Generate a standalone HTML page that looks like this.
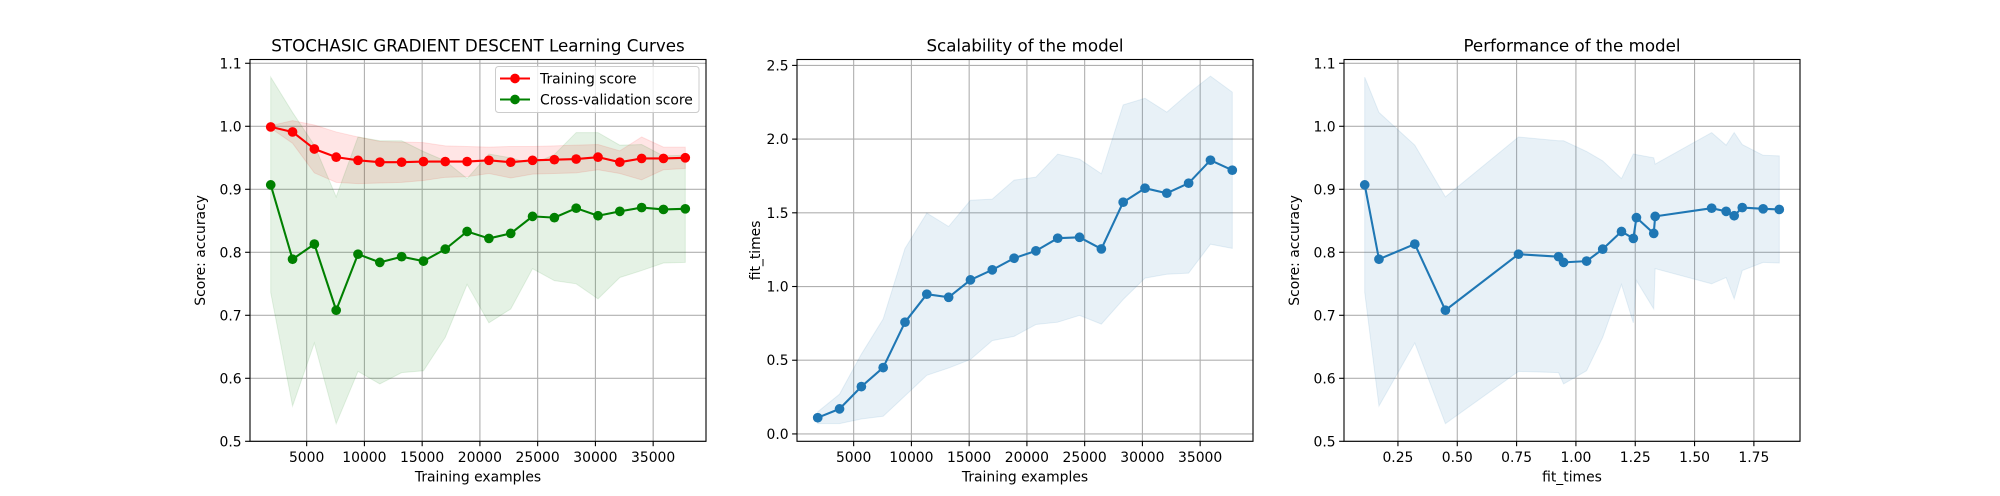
<!DOCTYPE html>
<html><head><meta charset="utf-8">
<style>
html,body{margin:0;padding:0;background:#fff;}
svg{display:block;font-family:"DejaVu Sans","Liberation Sans",sans-serif;}
</style></head>
<body>
<svg id="fig" width="2000" height="496" viewBox="0 0 2000 496" xmlns="http://www.w3.org/2000/svg">
<rect width="2000" height="496" fill="#fff"/>
</svg>
<script>
// ---- data ----
const trainSizes = [1889,3778,5667,7556,9445,11334,13223,15112,17001,18890,20779,22668,24557,26446,28335,30224,32113,34002,35891,37780];
const trainMean = [0.999,0.991,0.964,0.951,0.946,0.943,0.943,0.944,0.944,0.944,0.946,0.943,0.946,0.947,0.948,0.951,0.943,0.949,0.949,0.950];
const trainStd = [0.002,0.018,0.038,0.040,0.037,0.033,0.032,0.030,0.025,0.024,0.021,0.025,0.022,0.022,0.022,0.020,0.018,0.034,0.018,0.017];
const testMean = [0.907,0.789,0.813,0.708,0.797,0.784,0.793,0.786,0.805,0.833,0.822,0.830,0.857,0.855,0.870,0.858,0.865,0.871,0.868,0.869];
const testStd = [0.171,0.233,0.157,0.180,0.186,0.193,0.184,0.174,0.140,0.084,0.134,0.120,0.083,0.100,0.120,0.132,0.105,0.100,0.085,0.085];
const fitMean = [0.11,0.17,0.321,0.45,0.758,0.948,0.927,1.045,1.113,1.192,1.242,1.328,1.334,1.255,1.572,1.667,1.633,1.701,1.857,1.789];
const fitStd = [0.04,0.10,0.22,0.33,0.50,0.55,0.48,0.54,0.48,0.53,0.50,0.57,0.53,0.51,0.66,0.61,0.55,0.61,0.57,0.53];
const xTicks1 = [5000,10000,15000,20000,25000,30000,35000];
const yTicks1 = [0.5,0.6,0.7,0.8,0.9,1.0,1.1];
const yTicks2 = [0.0,0.5,1.0,1.5,2.0,2.5];
const xTicks3 = [0.25,0.50,0.75,1.00,1.25,1.50,1.75];

const NS = "http://www.w3.org/2000/svg";
const svg = document.getElementById('fig');
function mk(tag, attrs, parent){
  const e = document.createElementNS(NS, tag);
  for (const k in attrs) e.setAttribute(k, attrs[k]);
  (parent||svg).appendChild(e);
  return e;
}
const TOP = 59.5, BOT = 441.3, MR = 4.85;
function autoLim(arr){const mn=Math.min(...arr),mx=Math.max(...arr),m=0.05*(mx-mn);return [mn-m,mx+m];}

function axes(name, left, xlim, ylim, xticks, yticks, xfmt, yfmt, title, xlabel, ylabel){
  const right = left + 456;
  const g = mk('g', {});
  
  
  const sx = v => left + (v - xlim[0]) / (xlim[1] - xlim[0]) * (right - left);
  const sy = v => BOT - (v - ylim[0]) / (ylim[1] - ylim[0]) * (BOT - TOP);
  const grid = mk('g', {stroke:'#b0b0b0','stroke-width':1.1}, g);
  
  
  xticks.forEach(t => {
    const x = sx(t);
    mk('line', {x1:x,x2:x,y1:TOP,y2:BOT}, grid);
    mk('line', {x1:x,x2:x,y1:BOT,y2:BOT+4.9,stroke:'#000','stroke-width':1.1}, g);
    const tx = mk('text', {x:x,y:BOT+20.5,'font-size':13.9,'text-anchor':'middle',fill:'#000'}, g);
    
    
    tx.textContent = xfmt(t);
  });
  yticks.forEach(t => {
    const y = sy(t);
    mk('line', {x1:left,x2:right,y1:y,y2:y}, grid);
    mk('line', {x1:left-4.9,x2:left,y1:y,y2:y,stroke:'#000','stroke-width':1.1}, g);
    const ty = mk('text', {x:left-8.4,y:y+5,'font-size':13.9,'text-anchor':'end',fill:'#000'}, g);
    
    
    ty.textContent = yfmt(t);
  });
  const tt = mk('text', {x:(left+right)/2,y:TOP-8,'font-size':16.7,'text-anchor':'middle',fill:'#000'}, g);
  
  
  tt.textContent = title;
  const xl = mk('text', {x:(left+right)/2,y:481.5,'font-size':13.9,'text-anchor':'middle',fill:'#000'}, g);
  
  
  xl.textContent = xlabel;
  const yx = left - (ylabel === 'fit_times' ? 37 : 45);
  const yl = mk('text', {x:yx,y:(TOP+BOT)/2,'font-size':13.9,'text-anchor':'middle',fill:'#000',transform:`rotate(-90 ${yx} ${(TOP+BOT)/2})`}, g);
  
  
  yl.textContent = ylabel;
  return {g, sx, sy, left, right};
}
function finish(ax){
  const r = mk('rect', {x:ax.left,y:TOP,width:456,height:BOT-TOP,fill:'none',stroke:'#000','stroke-width':1.1}, ax.g);
  
  
}
function band(ax, xs, lo, hi, color, name){
  let d = 'M' + xs.map((x,i)=>ax.sx(x)+','+ax.sy(hi[i])).join('L');
  d += 'L' + xs.map((x,i)=>[ax.sx(x),ax.sy(lo[i])]).reverse().map(p=>p.join(',')).join('L') + 'Z';
  const p = mk('path', {d, fill:color, 'fill-opacity':0.1, stroke:color, 'stroke-opacity':0.1}, ax.g);
  
  
}
function series(ax, xs, ys, color, name){
  const g = mk('g', {}, ax.g);
  
  
  mk('polyline', {points: xs.map((x,i)=>ax.sx(x)+','+ax.sy(ys[i])).join(' '), fill:'none', stroke:color, 'stroke-width':2.08,'stroke-linejoin':'round'}, g);
  xs.forEach((x,i) => {
    const c = mk('circle', {cx:ax.sx(x), cy:ax.sy(ys[i]), r:MR, fill:color}, g);
    
    
  });
}
const f0 = v => String(Math.round(v));
const f1 = v => v.toFixed(1);
const f2 = v => v.toFixed(2);
const xlimSizes = autoLim(trainSizes);

// Plot 1
const ax1 = axes('learning-curves-plot', 250, xlimSizes, [0.5,1.106], xTicks1, yTicks1, f0, f1,
  'STOCHASIC GRADIENT DESCENT Learning Curves', 'Training examples', 'Score: accuracy');
band(ax1, trainSizes, trainMean.map((m,i)=>m-trainStd[i]), trainMean.map((m,i)=>m+trainStd[i]), '#ff0000', 'training-score-band');
band(ax1, trainSizes, testMean.map((m,i)=>m-testStd[i]), testMean.map((m,i)=>m+testStd[i]), '#008000', 'cv-score-band');
series(ax1, trainSizes, trainMean, '#ff0000', 'training-score-line');
series(ax1, trainSizes, testMean, '#008000', 'cv-score-line');
// legend
const lg = mk('g', {}, ax1.g);


mk('rect', {x:495.5,y:66.5,width:203.5,height:46,rx:3,fill:'#fff','fill-opacity':0.8,stroke:'#ccc','stroke-width':1}, lg);
[['Training score','#ff0000',78.5],['Cross-validation score','#008000',99.5]].forEach(([t,c,y])=>{
  const e = mk('g', {}, lg);
  
  
  mk('line', {x1:500,x2:530,y1:y,y2:y,stroke:c,'stroke-width':2.08}, e);
  mk('circle', {cx:515,cy:y,r:MR,fill:c}, e);
  const tx = mk('text', {x:540,y:y+5,'font-size':13.9,fill:'#000'}, e);
  tx.textContent = t;
});
finish(ax1);

// Plot 2
const ax2 = axes('scalability-plot', 797, xlimSizes, [-0.05,2.54], xTicks1, yTicks2, f0, f1,
  'Scalability of the model', 'Training examples', 'fit_times');
band(ax2, trainSizes, fitMean.map((m,i)=>m-fitStd[i]), fitMean.map((m,i)=>m+fitStd[i]), '#1f77b4', 'fit-times-band');
series(ax2, trainSizes, fitMean, '#1f77b4', 'fit-times-line');
finish(ax2);

// Plot 3
const order = fitMean.map((v,i)=>i).sort((a,b)=>fitMean[a]-fitMean[b]);
const fx = order.map(i=>fitMean[i]);
const ty3 = order.map(i=>testMean[i]);
const ts3 = order.map(i=>testStd[i]);
const ax3 = axes('performance-plot', 1344, autoLim(fitMean), [0.5,1.106], xTicks3, yTicks1, f2, f1,
  'Performance of the model', 'fit_times', 'Score: accuracy');
band(ax3, fx, ty3.map((m,i)=>m-ts3[i]), ty3.map((m,i)=>m+ts3[i]), '#1f77b4', 'performance-band');
series(ax3, fx, ty3, '#1f77b4', 'performance-line');
finish(ax3);
</script>
</body></html>
